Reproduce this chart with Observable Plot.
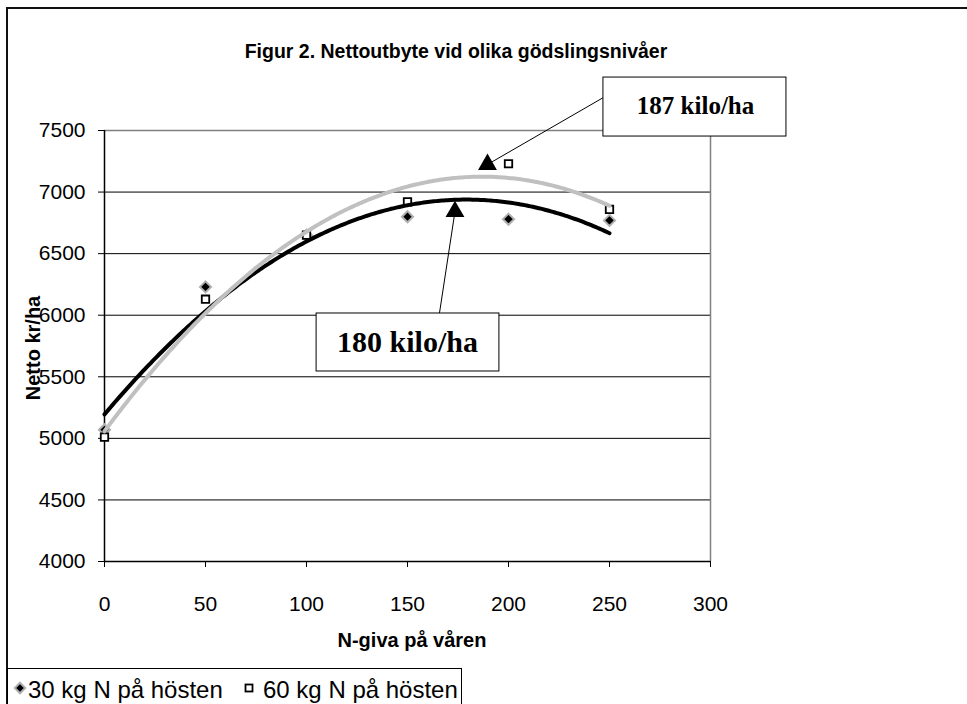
<!DOCTYPE html>
<html>
<head>
<meta charset="utf-8">
<script src="https://cdn.jsdelivr.net/npm/d3@7"></script>
<script src="https://cdn.jsdelivr.net/npm/@observablehq/plot@0.6"></script>
<style>
  html, body { margin: 0; padding: 0; background: #fff; }
  #wrap { position: relative; width: 967px; height: 704px; overflow: hidden; background: #fff; font-family: "Liberation Sans", Arial, sans-serif; color: #000; }
  #frame { position: absolute; left: 6px; top: 7px; width: 1000px; height: 1000px; border: 2px solid #111; box-sizing: border-box; }
  #chart { position: absolute; left: 0; top: 0; }
  .abs { position: absolute; white-space: nowrap; line-height: 1; }
  #title { left: 0; width: 912px; top: 42px; text-align: center; font-weight: bold; font-size: 19.5px; }
  #xlabel { left: 0; width: 824px; top: 630px; text-align: center; font-weight: bold; font-size: 20px; }
  #ylabel { left: 33px; top: 348px; font-weight: bold; font-size: 20px; transform: translate(-50%, -50%) rotate(-90deg); }
  #legend { position: absolute; left: 7px; top: 668px; width: 455px; height: 60px; border: 1.5px solid #000; box-sizing: border-box; background: #fff; font-size: 24px; }
  #chart g[aria-label="y-axis tick label"], #chart g[aria-label="x-axis tick label"] { font-size: 21px; }
</style>
</head>
<body>
<div id="wrap">
  <div id="frame"></div>
  <div id="chart"></div>
  <div id="title" class="abs">Figur 2. Nettoutbyte vid olika gödslingsnivåer</div>
  <div id="xlabel" class="abs">N-giva på våren</div>
  <div id="ylabel" class="abs">Netto kr/ha</div>
  <div id="legend"></div>
</div>
<script>
// ---- data ----
const nSpring = [0, 50, 100, 150, 200, 250];           // N-giva på våren
const netto30 = [5070, 6230, 6650, 6800, 6780, 6770];  // 30 kg N på hösten
const netto60 = [5010, 6130, 6650, 6920, 7230, 6860];  // 60 kg N på hösten
const seriesNames = ["30 kg N på hösten", "60 kg N på hösten"];
const xTicks = [0, 50, 100, 150, 200, 250, 300];
const yTicks = [4000, 4500, 5000, 5500, 6000, 6500, 7000, 7500];

// annotations (data coordinates)
const annoLabels = ["187 kilo/ha", "180 kilo/ha"];
const annoBoxX1 = [247, 105];
const annoBoxX2 = [337.6, 195.5];
const annoBoxY1 = [7930, 6014];
const annoBoxY2 = [7451, 5543];
const annoTextX = [292.6, 150];
const annoTextY = [7695, 5778];
const annoFromX = [247, 165.8];
const annoFromY = [7768, 6014];
const annoToX = [189.6, 173.5];
const annoToY = [7224, 6842];

// ---- build tables ----
const pts30 = nSpring.map((x, i) => ({x, y: netto30[i]}));
const pts60 = nSpring.map((x, i) => ({x, y: netto60[i]}));
const anno = annoLabels.map((label, i) => ({
  label, x1: annoBoxX1[i], x2: annoBoxX2[i], y1: annoBoxY1[i], y2: annoBoxY2[i],
  tx: annoTextX[i], ty: annoTextY[i],
  fx: annoFromX[i], fy: annoFromY[i], hx: annoToX[i], hy: annoToY[i],
  size: i === 0 ? 25 : 30
}));

// polynomial (order 2) trend line, least squares like the spreadsheet trendline
function quadFit(xs, ys) {
  let S = [0,0,0,0,0], T = [0,0,0];
  xs.forEach((x, i) => {
    for (let k = 0; k < 5; k++) S[k] += Math.pow(x, k);
    for (let k = 0; k < 3; k++) T[k] += ys[i] * Math.pow(x, k);
  });
  const A = [[S[0],S[1],S[2],T[0]],[S[1],S[2],S[3],T[1]],[S[2],S[3],S[4],T[2]]];
  for (let c = 0; c < 3; c++) {
    for (let r = c + 1; r < 3; r++) {
      const f = A[r][c] / A[c][c];
      for (let k = c; k < 4; k++) A[r][k] -= f * A[c][k];
    }
  }
  const coef = [0,0,0];
  for (let r = 2; r >= 0; r--) {
    let s = A[r][3];
    for (let k = r + 1; k < 3; k++) s -= A[r][k] * coef[k];
    coef[r] = s / A[r][r];
  }
  return x => coef[0] + coef[1] * x + coef[2] * x * x;
}
const f30 = quadFit(nSpring, netto30);
const f60 = quadFit(nSpring, netto60);
const xs = d3.range(0, 250.01, 1);
const trend30 = xs.map(x => ({x, y: f30(x)}));
const trend60 = xs.map(x => ({x, y: f60(x)}));

const chart = Plot.plot({
  width: 967,
  height: 704,
  marginLeft: 104,
  marginRight: 257,
  marginTop: 130,
  marginBottom: 143,
  style: {fontFamily: "Liberation Sans, Arial, sans-serif", fontSize: "21px", color: "#000", background: "transparent", overflow: "visible"},
  x: {domain: [0, 300]},
  y: {domain: [4000, 7500]},
  marks: [
    Plot.ruleY(yTicks.filter(d => d > 4000 && d < 7500), {stroke: "#000", strokeWidth: 1}),
    Plot.ruleY([7500], {stroke: "#808080", strokeWidth: 1.5}),
    Plot.ruleX([300], {stroke: "#808080", strokeWidth: 1.5}),
    Plot.axisY({ticks: yTicks, tickSize: 6, tickPadding: 13, tickFormat: d => String(d), label: null, fontSize: 21, stroke: "#000"}),
    Plot.axisX({ticks: xTicks, tickSize: 6, tickPadding: 29, tickFormat: d => String(d), label: null, fontSize: 21, stroke: "#000"}),
    Plot.ruleX([0], {stroke: "#000", strokeWidth: 1.5}),
    Plot.ruleY([4000], {stroke: "#000", strokeWidth: 1.5}),
    Plot.dot(pts30, {x: "x", y: "y", symbol: "diamond2", r: 5, fill: "#000", stroke: "#b0b0b0", strokeWidth: 2}),
    Plot.dot(pts60, {x: "x", y: "y", symbol: "square", r: 4.2, fill: "#fff", stroke: "#000", strokeWidth: 1.8}),
    Plot.line(trend30, {x: "x", y: "y", stroke: "#000", strokeWidth: 4, strokeLinecap: "round"}),
    Plot.line(trend60, {x: "x", y: "y", stroke: "#c0c0c0", strokeWidth: 4, strokeLinecap: "round"}),
    Plot.link(anno, {x1: "fx", y1: "fy", x2: "hx", y2: "hy", stroke: "#000", strokeWidth: 1}),
    Plot.dot(anno, {x: "hx", y: "hy", symbol: "triangle", r: 7, fill: "#000", stroke: "none"}),
    Plot.rect(anno, {x1: "x1", x2: "x2", y1: "y1", y2: "y2", fill: "#fff", stroke: "#000", strokeWidth: 1}),
    Plot.text(anno, {x: "tx", y: "ty", text: "label", fontFamily: "Liberation Serif, Times New Roman, serif", fontWeight: "bold", fontSize: d => d.size, fill: "#000"})
  ]
});
document.getElementById("chart").appendChild(chart);
d3.select(chart).selectAll('g[aria-label$="tick label"]').style("font-size", "21px").attr("font-size", 21);

// legend
const legend = d3.select("#legend");
const lsvg = legend.append("svg").attr("width", 452).attr("height", 40)
  .style("position", "absolute").style("left", "0px").style("top", "0px");
lsvg.append("path").attr("d", d3.symbol(d3.symbolDiamond2, 70)())
  .attr("transform", "translate(12,19)").attr("fill", "#000").attr("stroke", "#b0b0b0").attr("stroke-width", 2);
lsvg.append("rect").attr("x", 237.5).attr("y", 15.5).attr("width", 7).attr("height", 7)
  .attr("fill", "#fff").attr("stroke", "#000").attr("stroke-width", 1.8);
legend.append("div").attr("class", "abs").style("left", "20px").style("top", "9px").text(seriesNames[0]);
legend.append("div").attr("class", "abs").style("left", "255px").style("top", "9px").text(seriesNames[1]);
</script>
</body>
</html>
